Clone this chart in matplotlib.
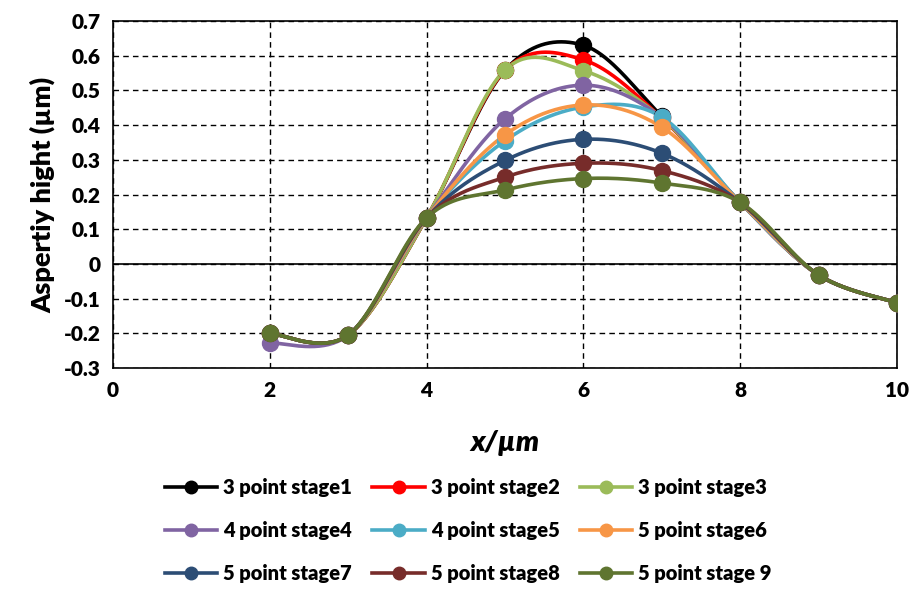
import matplotlib.pyplot as plt
import numpy as np

plt.rcParams["font.family"] = ["Lato", "DejaVu Sans"]
plt.rcParams["font.weight"] = "heavy"

x = [2, 3, 4, 5, 6, 7, 8, 9, 10]

labels = [
    "3 point stage1", "3 point stage2", "3 point stage3",
    "4 point stage4", "4 point stage5", "5 point stage6",
    "5 point stage7", "5 point stage8", "5 point stage 9",
]
colors = [
    "#000000", "#FF0000", "#9BBB59",
    "#8064A2", "#4BACC6", "#F79646",
    "#2C4D75", "#772C2A", "#5F7530",
]

stage1 = [-0.200, -0.205, 0.133, 0.558, 0.630, 0.425, 0.177, -0.032, -0.112]
stage2 = [-0.200, -0.205, 0.133, 0.558, 0.588, 0.420, 0.177, -0.032, -0.112]
stage3 = [-0.200, -0.205, 0.133, 0.559, 0.557, 0.420, 0.177, -0.032, -0.112]
stage4 = [-0.228, -0.205, 0.133, 0.418, 0.515, 0.422, 0.177, -0.032, -0.112]
stage5 = [-0.200, -0.205, 0.133, 0.355, 0.452, 0.423, 0.177, -0.032, -0.112]
stage6 = [-0.200, -0.205, 0.133, 0.372, 0.458, 0.394, 0.177, -0.032, -0.112]
stage7 = [-0.200, -0.205, 0.133, 0.298, 0.359, 0.319, 0.177, -0.032, -0.112]
stage8 = [-0.200, -0.205, 0.133, 0.250, 0.290, 0.269, 0.177, -0.032, -0.112]
stage9 = [-0.200, -0.205, 0.133, 0.213, 0.246, 0.233, 0.177, -0.032, -0.112]
series = [stage1, stage2, stage3, stage4, stage5, stage6, stage7, stage8, stage9]


def smooth(xs, ys, n=40):
    """Catmull-Rom style Bezier smoothing through every point."""
    p = np.column_stack([xs, ys]).astype(float)
    p = np.vstack([p[0], p, p[-1]])
    out = []
    t = np.linspace(0, 1, n)[:, None]
    for i in range(1, len(p) - 2):
        p0, p1, p2, p3 = p[i - 1], p[i], p[i + 1], p[i + 2]
        c1 = p1 + (p2 - p0) / 6
        c2 = p2 - (p3 - p1) / 6
        seg = ((1 - t) ** 3) * p1 + 3 * ((1 - t) ** 2) * t * c1 \
            + 3 * (1 - t) * t ** 2 * c2 + t ** 3 * p2
        out.append(seg if i == 1 else seg[1:])
    out = np.vstack(out)
    return out[:, 0], out[:, 1]


fig = plt.figure(figsize=(9.13, 5.93), dpi=100)
ax = fig.add_axes([0.1238, 0.3794, 0.8587, 0.5852])

handles = []
for ys, c, lab in zip(series, colors, labels):
    sx, sy = smooth(x, ys)
    ax.plot(sx, sy, color=c, lw=2.6, zorder=3)
    ax.plot(x, ys, "o", color=c, ms=11.5, zorder=4)
    h, = ax.plot([], [], "-o", color=c, lw=2.6, ms=9, label=lab)
    handles.append(h)

ax.set_xlim(0, 10)
ax.set_ylim(-0.3, 0.7)
ax.set_xticks(range(0, 11, 2))
ax.set_yticks(np.round(np.arange(-0.3, 0.71, 0.1), 1))
ax.set_yticklabels(["-0.3", "-0.2", "-0.1", "0", "0.1", "0.2", "0.3",
                    "0.4", "0.5", "0.6", "0.7"])
ax.tick_params(length=0, labelsize=15, pad=9)
for t in ax.get_xticklabels() + ax.get_yticklabels():
    t.set_fontweight("heavy")

ax.grid(True, color="black", ls=(0, (4, 3)), lw=1)
ax.axhline(0, color="black", lw=1.2, zorder=2)
for s in ax.spines.values():
    s.set_color("black")
    s.set_linewidth(1.2)

ax.set_ylabel("Aspertiy hight (µm)", fontsize=19.5, fontweight="heavy", labelpad=6)
ax.set_xlabel("x/µm", fontsize=21, fontweight="heavy", style="italic", labelpad=22)

order = [0, 3, 6, 1, 4, 7, 2, 5, 8]
fig.legend([handles[i] for i in order], [labels[i] for i in order],
           ncol=3, loc="center", bbox_to_anchor=(0.513, 0.105),
           frameon=False, handlelength=2.6,
           columnspacing=1.0, labelspacing=1.2, handletextpad=0.3,
           prop={"weight": "heavy", "size": 14.5})

fig.savefig("out.png", dpi=100)
